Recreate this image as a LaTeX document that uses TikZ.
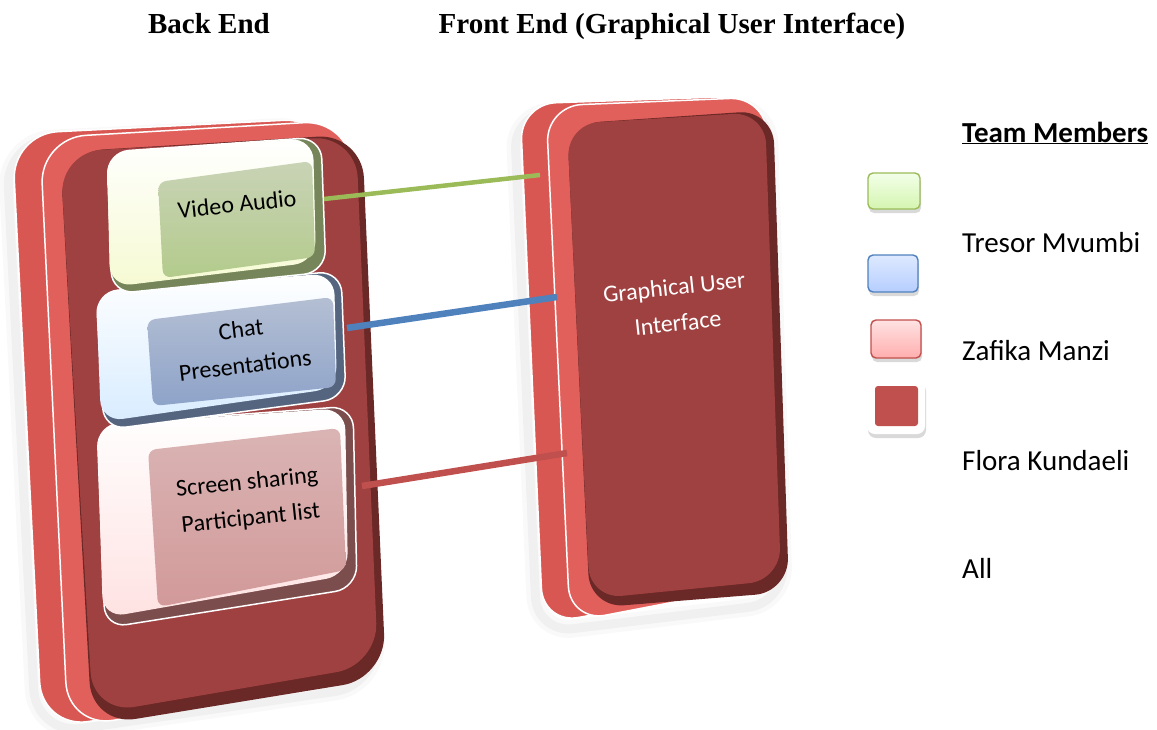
\documentclass[tikz,border=0pt]{standalone}
\usepackage{fontspec}
\setmainfont{Carlito}
\newfontfamily\headfont{Liberation Serif}
\definecolor{slabface}{HTML}{A04141}
\definecolor{slabedge}{HTML}{6A2826}
\definecolor{slabback}{HTML}{D95753}
\definecolor{slabmid}{HTML}{E2605C}
\definecolor{vaside}{HTML}{76865A}
\definecolor{vatop}{HTML}{C9D3B6}
\definecolor{vabot}{HTML}{B3CB8C}
\definecolor{valite}{HTML}{F6FAD2}
\definecolor{chside}{HTML}{56657F}
\definecolor{chtop}{HTML}{B4BFD3}
\definecolor{chbot}{HTML}{8EA3C9}
\definecolor{chlite}{HTML}{D8ECFF}
\definecolor{scside}{HTML}{7B4D4D}
\definecolor{sctop}{HTML}{DAB4B4}
\definecolor{scbot}{HTML}{D29999}
\definecolor{sclite}{HTML}{FFE2E2}
\definecolor{lgreen}{HTML}{9BBB59}
\definecolor{lblue}{HTML}{4F81BD}
\definecolor{lred}{HTML}{C0504D}
\definecolor{kgtop}{HTML}{F2FFE8}
\definecolor{kgbot}{HTML}{D5F5B0}
\definecolor{kbtop}{HTML}{DDE9FF}
\definecolor{kbbot}{HTML}{B6CEFF}
\definecolor{krtop}{HTML}{FFE2E2}
\definecolor{krbot}{HTML}{FFAEAE}
\begin{document}
\begin{tikzpicture}[x=1pt,y=-1pt,
  slabpart/.style={draw=white, line width=1.5pt, rounded corners=#1},
  facepart/.style={rounded corners=#1},
  blockbody/.style={draw=white, line width=1.5pt, rounded corners=22pt},
  blocklite/.style={rounded corners=22pt},
  blockface/.style={rounded corners=8pt},
  lbl/.style={font=\fontsize{24}{36}\selectfont, align=center, rotate=6, inner sep=0pt},
  head/.style={font=\headfont\bfseries\fontsize{29}{34}\selectfont, anchor=base, inner sep=0pt},
  member/.style={font=\fontsize{29}{34}\selectfont, anchor=base west, inner sep=0pt},
  link/.style={line width=#1},
  keybox/.style={rounded corners=5pt, line width=1.4pt},
  keyshadow/.style={rounded corners=5pt, fill=black, opacity=0.15}]
\useasboundingbox (0,0) rectangle (1157,729);

% headings
\node[head] (backend) at (209,33) {Back End};
\node[head] (frontend) at (672,33) {Front End (Graphical User Interface)};

% soft haze under both slabs
\foreach \w/\o in {18/0.025,9/0.035}{
  \draw[black, line width=\w pt, opacity=\o, rounded corners=46pt, shift={(-6,7)}]
    (12,134) -- (330,118) -- (386,678) -- (42,728) -- cycle;
  \draw[black, line width=\w pt, opacity=\o, rounded corners=36pt, shift={(-6,9)}]
    (520,104) -- (774,97) -- (790,594) -- (543,624) -- cycle;
}

% ---- back end slab ----
\path[slabpart=46pt, fill=slabback] (12,134) -- (330,118) -- (356,684) -- (42,728) -- cycle;
\path[slabpart=46pt, fill=slabmid] (40,138) -- (350,120) -- (372,676) -- (68,728) -- cycle;
\path[facepart=44pt, fill=slabedge] (60,152) -- (362,134) -- (386,678) -- (92,726) -- cycle;
\path[facepart=42pt, fill=slabface] (60,152) -- (356,136) -- (378,665) -- (93,714) -- cycle;

% ---- front end slab ----
\path[slabpart=36pt, fill=slabback] (520,104) -- (748,96) -- (760,584) -- (543,624) -- cycle;
\path[slabpart=36pt, fill=slabmid] (546,106) -- (766,97) -- (778,582) -- (570,622) -- cycle;
\path[facepart=34pt, fill=slabedge] (567,124) -- (773,110) -- (789,592) -- (590,608) -- cycle;
\path[facepart=32pt, fill=slabface] (567,124) -- (765,112) -- (781,580) -- (590,599) -- cycle;
\node[lbl, text=white] (gui) at (676,305) {Graphical User\\Interface};

% ---- raised blocks on the back end slab ----
% screen sharing / participant list
\path[blockbody, fill=scside] (97,425) -- (353,406) -- (357,588) -- (105,628) -- cycle;
\shade[blocklite, top color=white, bottom color=sclite] (97,425) -- (345,408) -- (348,575) -- (103,618) -- cycle;
\shade[blockface, top color=sctop, bottom color=scbot] (148,450) -- (340,428) -- (346,570) -- (158,607) -- cycle;
\node[lbl] (share) at (249,501) {Screen sharing\\Participant list};

% chat / presentations
\path[blockbody, fill=chside] (96,292) -- (341,271) -- (346,398) -- (104,430) -- cycle;
\shade[blocklite, top color=white, bottom color=chlite] (96,292) -- (334,273) -- (337,388) -- (101,422) -- cycle;
\shade[blockface, top color=chtop, bottom color=chbot] (147,320) -- (333,297) -- (336,387) -- (153,406) -- cycle;
\node[lbl, rotate=1] (chat) at (243,347) {Chat\\Presentations};

% video / audio
\path[blockbody, fill=vaside] (107,152) -- (321,137) -- (326,272) -- (112,294) -- cycle;
\shade[blocklite, top color=white, bottom color=valite] (107,152) -- (313,138) -- (316,262) -- (110,287) -- cycle;
\shade[blockface, top color=vatop, bottom color=vabot] (158,182) -- (312,161) -- (315,257) -- (163,278) -- cycle;
\node[lbl] (video) at (237,204) {Video Audio};

% ---- links from the blocks to the interface ----
\coordinate (video-out) at (324,199);
\coordinate (chat-out) at (347,328);
\coordinate (share-out) at (362,486);
\coordinate (gui-in1) at (540,175);
\coordinate (gui-in2) at (557,297);
\coordinate (gui-in3) at (567,453);
\draw[link=4.5pt, lgreen] (video-out) -- (gui-in1);
\draw[link=6.5pt, lblue] (chat-out) -- (gui-in2);
\draw[link=6.5pt, lred] (share-out) -- (gui-in3);

% ---- legend ----
\node[member, font=\bfseries\fontsize{29}{34}\selectfont] (team) at (962,142) {\underline{Team Members}};

\fill[keyshadow] (869,177) rectangle (921,213);
\shade[keybox, top color=kgtop, bottom color=kgbot, draw=lgreen] (868,173) rectangle (920,209);
\fill[keyshadow] (869,259) rectangle (919,296);
\shade[keybox, top color=kbtop, bottom color=kbbot, draw=lblue] (868,255) rectangle (918,292);
\fill[keyshadow] (872,324) rectangle (922,362);
\shade[keybox, top color=krtop, bottom color=krbot, draw=lred] (871,320) rectangle (921,358);
\fill[keyshadow, rounded corners=8pt] (868,383) rectangle (926,438);
\fill[white, rounded corners=8pt] (867,379) rectangle (925,434);
\fill[lred, rounded corners=3pt] (875,386) rectangle (918,426);

\node[member] (m1) at (962,252) {Tresor Mvumbi};
\node[member] (m2) at (962,360) {Zafika Manzi};
\node[member] (m3) at (962,470) {Flora Kundaeli};
\node[member] (m4) at (962,578) {All};
\end{tikzpicture}
\end{document}
